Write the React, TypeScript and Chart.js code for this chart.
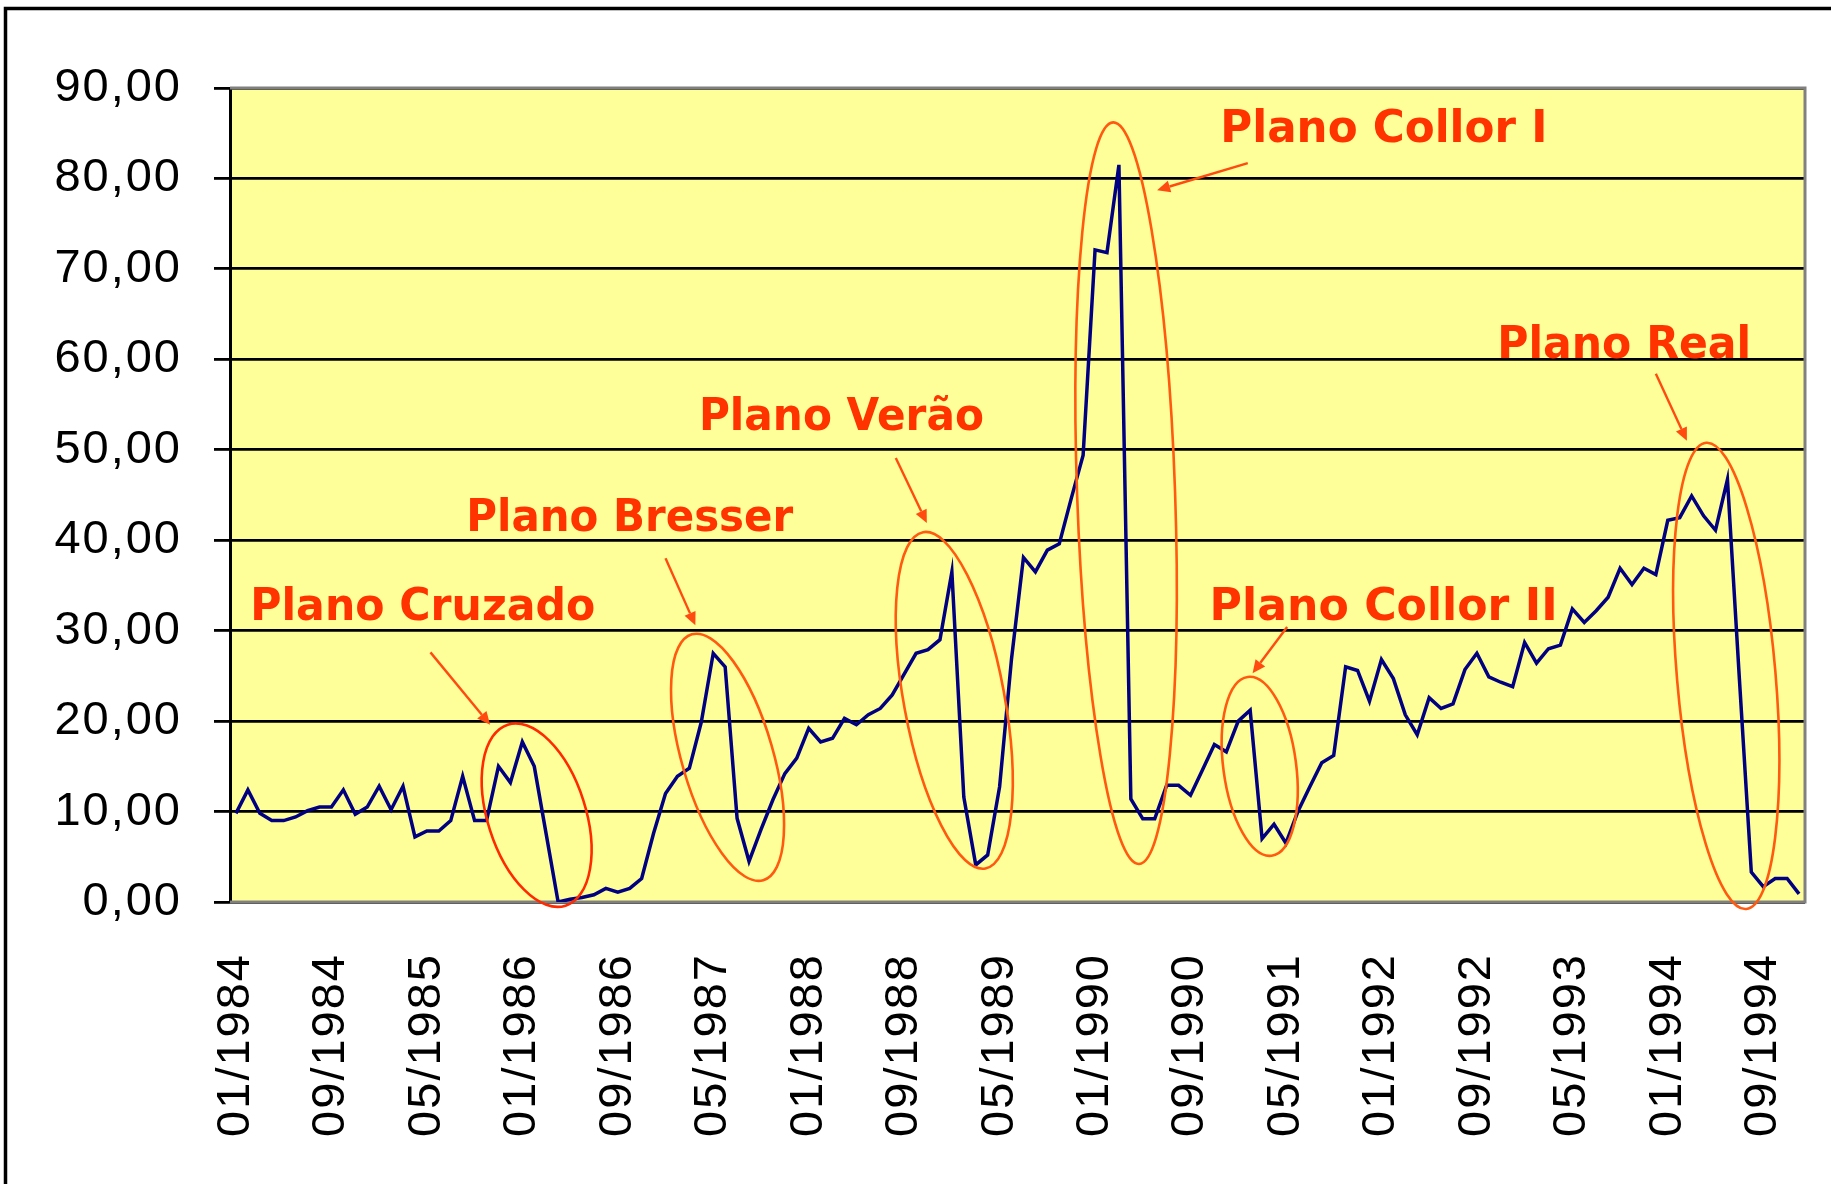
import React, { useEffect, useRef } from 'react';
import { Chart, registerables } from 'chart.js';

Chart.register(...registerables);

// ---------- data ----------
const years = [1984, 1985, 1986, 1987, 1988, 1989, 1990, 1991, 1992, 1993, 1994];
const months = ['01', '02', '03', '04', '05', '06', '07', '08', '09', '10', '11', '12'];
const categories: string[] = years.flatMap((y) => months.map((m) => `${m}/${y}`));

const v1984 = [9.8, 12.4, 9.8, 9.0, 9.0, 9.4, 10.1, 10.5, 10.5, 12.4, 9.7, 10.5];
const v1985 = [12.8, 10.2, 12.8, 7.2, 7.85, 7.85, 9.0, 13.9, 9.0, 9.0, 15.0, 13.2];
const v1986 = [17.7, 15.0, 7.5, 0.0, 0.3, 0.5, 0.8, 1.5, 1.1, 1.5, 2.6, 7.6];
const v1987 = [12.0, 13.9, 14.8, 19.9, 27.5, 26.0, 9.25, 4.5, 8.0, 11.3, 14.2, 15.9];
const v1988 = [19.2, 17.7, 18.1, 20.3, 19.6, 20.7, 21.4, 22.9, 25.2, 27.5, 27.9, 29.0];
const v1989 = [36.5, 11.6, 4.1, 5.2, 12.75, 26.9, 38.1, 36.5, 38.9, 39.6, 44.6, 49.4];
const v1990 = [72.1, 71.8, 81.5, 11.4, 9.2, 9.2, 12.9, 12.9, 11.8, 14.6, 17.4, 16.6];
const v1991 = [20.0, 21.2, 7.0, 8.6, 6.5, 10.0, 12.75, 15.4, 16.2, 26.0, 25.6, 22.2];
const v1992 = [26.8, 24.7, 20.7, 18.5, 22.6, 21.4, 21.9, 25.7, 27.5, 24.9, 24.3, 23.8];
const v1993 = [28.7, 26.4, 28.0, 28.4, 32.4, 30.9, 32.2, 33.7, 36.9, 35.1, 36.9, 36.2];
const v1994 = [42.2, 42.5, 44.9, 42.7, 41.1, 46.7, 24.7, 3.3, 1.7, 2.6, 2.6, 0.9];

const inflation = [
  ...v1984, ...v1985, ...v1986, ...v1987, ...v1988, ...v1989,
  ...v1990, ...v1991, ...v1992, ...v1993, ...v1994,
];

const yMin = 0;
const yMax = 90;
const yStep = 10;
const labelEvery = 8;

// ---------- annotations (positions in data coordinates: category index, value) ----------
const planNames = ['Plano Cruzado', 'Plano Bresser', 'Plano Verão', 'Plano Collor I', 'Plano Collor II', 'Plano Real'];
const ellipseCenters = [
  [25.2, 9.6], [41.2, 16.0], [60.2, 22.3], [74.6, 45.2], [85.8, 15.0], [124.9, 25.0],
];
const arrowFrom = [
  [16.3, 27.6], [36.0, 38.0], [55.3, 49.1], [84.8, 81.7], [88.1, 30.4], [119.0, 58.4],
];
const arrowTo = [
  [21.3, 19.6], [38.5, 30.6], [57.9, 41.9], [77.2, 78.7], [85.2, 25.3], [121.6, 51.0],
];
const labelAnchors = [
  [1.2, 31.2], [19.3, 41.0], [38.8, 52.2], [82.5, 84.0], [81.6, 31.2], [105.7, 60.2],
];

// styles for annotations (pixels)
const ellipseAxes = [
  [49, 95, -17.7], [45.6, 128, -16.2], [50.3, 171, -10.5], [49, 371, -2.0], [36.4, 90.2, -7.6], [49.3, 234, -4.9],
];
const ellipseColors = ['#FF2A00', '#FF5A10', '#FF5A10', '#FF5A10', '#FF5A10', '#FF5A10'];
const labelWidths = [345, 327, 285, 327, 348, 254];

const W = 1831;
const H = 1184;

const bgPlugin = {
  id: 'bgFrame',
  beforeDraw(chart: any) {
    const { ctx, chartArea } = chart;
    ctx.save();
    ctx.fillStyle = '#FFFFFF';
    ctx.fillRect(0, 0, W, H);
    // outer frame (top & left visible)
    ctx.strokeStyle = '#000000';
    ctx.lineWidth = 3.5;
    ctx.beginPath();
    ctx.moveTo(5.5, H + 5);
    ctx.lineTo(5.5, 8.5);
    ctx.lineTo(W + 5, 8.5);
    ctx.stroke();
    // plot background
    ctx.fillStyle = '#FFFF99';
    ctx.fillRect(chartArea.left, chartArea.top, chartArea.right - chartArea.left, chartArea.bottom - chartArea.top);
    ctx.restore();
    (ctx as any).letterSpacing = '2px';
  },
  beforeDatasetsDraw(chart: any) {
    const { ctx, chartArea } = chart;
    ctx.save();
    ctx.strokeStyle = '#808080';
    ctx.lineWidth = 3;
    ctx.beginPath();
    ctx.moveTo(chartArea.left, chartArea.top);
    ctx.lineTo(chartArea.right, chartArea.top);
    ctx.lineTo(chartArea.right, chartArea.bottom);
    ctx.lineTo(chartArea.left, chartArea.bottom);
    ctx.stroke();
    ctx.restore();
  },
  afterDraw(chart: any) {
    (chart.ctx as any).letterSpacing = '0px';
  },
};

const planPlugin = {
  id: 'planos',
  afterDatasetsDraw(chart: any) {
    const { ctx } = chart;
    const xs = chart.scales.x;
    const ys = chart.scales.y;
    const px = (i: number) => xs.getPixelForValue(i);
    const py = (v: number) => ys.getPixelForValue(v);
    ctx.save();
    (ctx as any).letterSpacing = '0px';
    planNames.forEach((name, k) => {
      // ellipse
      const [rx, ry, rot] = ellipseAxes[k];
      ctx.beginPath();
      ctx.ellipse(px(ellipseCenters[k][0]), py(ellipseCenters[k][1]), rx, ry, (rot * Math.PI) / 180, 0, Math.PI * 2);
      ctx.strokeStyle = ellipseColors[k];
      ctx.lineWidth = 2.6;
      ctx.stroke();

      // arrow
      const x1 = px(arrowFrom[k][0]);
      const y1 = py(arrowFrom[k][1]);
      const x2 = px(arrowTo[k][0]);
      const y2 = py(arrowTo[k][1]);
      const ang = Math.atan2(y2 - y1, x2 - x1);
      const headLen = 13;
      const headW = 6;
      const bx = x2 - headLen * Math.cos(ang);
      const by = y2 - headLen * Math.sin(ang);
      ctx.strokeStyle = '#FF4A10';
      ctx.fillStyle = '#FF4A10';
      ctx.lineWidth = 2.4;
      ctx.beginPath();
      ctx.moveTo(x1, y1);
      ctx.lineTo(bx, by);
      ctx.stroke();
      ctx.beginPath();
      ctx.moveTo(x2, y2);
      ctx.lineTo(bx + headW * Math.sin(ang), by - headW * Math.cos(ang));
      ctx.lineTo(bx - headW * Math.sin(ang), by + headW * Math.cos(ang));
      ctx.closePath();
      ctx.fill();

      // label
      ctx.font = 'bold 45px "DejaVu Sans", Verdana, sans-serif';
      ctx.textAlign = 'left';
      ctx.textBaseline = 'alphabetic';
      const w = ctx.measureText(name).width;
      ctx.save();
      ctx.translate(px(labelAnchors[k][0]), py(labelAnchors[k][1]));
      ctx.scale(labelWidths[k] / w, 1);
      ctx.fillStyle = '#FF3300';
      ctx.fillText(name, 0, 0);
      ctx.restore();
    });
    ctx.restore();
  },
};

export default function App() {
  const canvasRef = useRef<HTMLCanvasElement | null>(null);

  useEffect(() => {
    const canvas = canvasRef.current;
    if (!canvas) return;
    const tickFont = { family: '"Liberation Sans", Arial, sans-serif', size: 47 };
    const chart = new Chart(canvas, {
      type: 'line',
      data: {
        labels: categories,
        datasets: [
          {
            data: inflation,
            borderColor: '#000080',
            borderWidth: 3.5,
            pointRadius: 0,
            tension: 0,
            fill: false,
          },
        ],
      },
      options: {
        animation: false,
        responsive: false,
        maintainAspectRatio: false,
        devicePixelRatio: 1,
        layout: { padding: { top: 88, right: 26, left: 0, bottom: 0 } },
        plugins: { legend: { display: false }, tooltip: { enabled: false } },
        scales: {
          x: {
            type: 'category',
            offset: true,
            grid: { display: false, drawTicks: false },
            border: { display: false },
            ticks: {
              autoSkip: false,
              maxRotation: 90,
              minRotation: 90,
              padding: 51,
              color: '#000000',
              font: tickFont,
              callback: (_v: any, i: number) => (i % labelEvery === 0 ? categories[i] : null),
            },
            afterFit: (s: any) => {
              s.height = 282;
              s.paddingLeft = 0;
              s.paddingRight = 0;
              s.paddingTop = 0;
              s.paddingBottom = 0;
            },
          },
          y: {
            min: yMin,
            max: yMax,
            ticks: {
              stepSize: yStep,
              padding: 32,
              color: '#000000',
              font: tickFont,
              callback: (v: any) => Number(v).toFixed(2).replace('.', ','),
            },
            grid: { color: '#000000', lineWidth: 2.8, tickLength: 16, drawTicks: true },
            border: { display: true, color: '#000000', width: 3 },
            afterFit: (s: any) => {
              s.width = 230;
              s.paddingTop = 0;
              s.paddingBottom = 0;
            },
          },
        },
      },
      plugins: [bgPlugin, planPlugin],
    } as any);
    return () => chart.destroy();
  }, []);

  return (
    <div style={{ position: 'fixed', left: 0, top: 0, width: W, height: H, overflow: 'hidden', background: '#fff' }}>
      <canvas ref={canvasRef} width={W} height={H} style={{ display: 'block', width: W, height: H }} />
    </div>
  );
}
